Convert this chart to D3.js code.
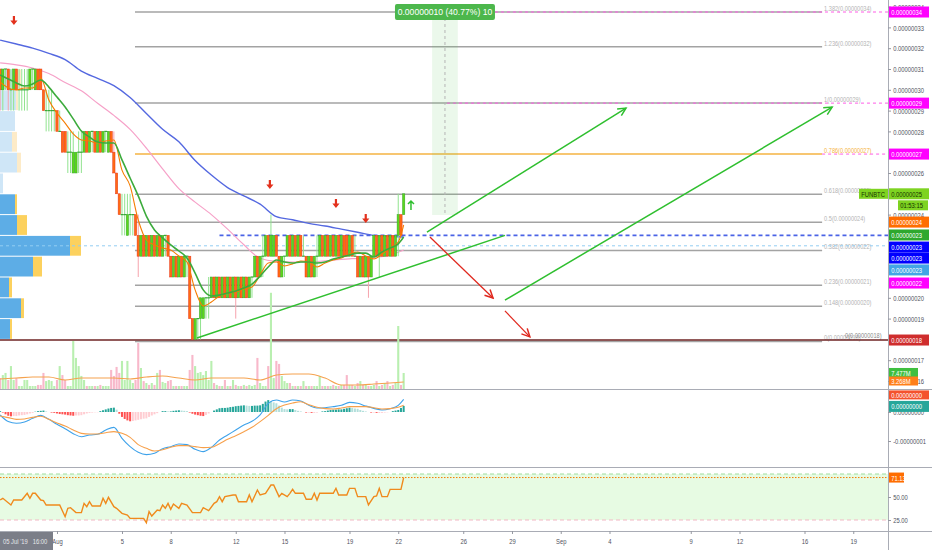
<!DOCTYPE html>
<html><head><meta charset="utf-8">
<script src="https://cdn.jsdelivr.net/npm/d3@7/dist/d3.min.js"></script>
<style>
html,body{margin:0;padding:0;background:#fff;overflow:hidden;}
svg{display:block;font-family:"Liberation Sans","DejaVu Sans",sans-serif;}
</style></head><body>
<svg id="chart" width="932" height="550"></svg>
<script>
// ================= DATA =================
const symbol = "FUNBTC";
const barStart = [2019, 6, 28, 12];   // 28 Jul 2019 12:00, 4-hour bars
const barHours = 4;
// [open, high, low, close] in satoshi (1e-8 BTC)
const candles = [
[31,31,29,30],[30,31,29,31],[31,31,30,31],[31,31,29,30],[30,31,29,30],[30,31,29,31],
[31,31,30,30],[30,31,29,30],[30,31,29,30],[30,31,29,30],[30,31,29,30],[30,31,30,31],
[31,31,30,31],[30,31,30,31],[31,31,30,30],[31,31,30,30],[30,30,29,29],[29,30,28,29],
[29,30,28,29],[29,30,28,29],[29,29,28,29],[29,29,28,28],[28,29,28,28],[28,28,27,27],
[28,28,27,27],[27,28,26,27],[27,28,26,27],[26,28,26,27],[26,27,26,27],[27,28,26,27],
[27,28,26,27],[27,28,27,28],[28,28,27,27],[27,28,27,28],[28,28,27,28],[28,28,27,27],
[27,28,27,28],[28,28,27,27],[27,28,27,28],[28,28,27,28],[27,28,27,28],[28,28,27,27],
[27,28,26,26],[26,26,25,25],[25,25,24,24],[24,25,23,24],[24,25,23,24],[23,25,23,24],
[24,25,23,24],[24,24,23,24],[24,24,23,23],[23,24,21,22],[22,23,22,23],[23,23,22,22],
[22,23,22,23],[23,23,22,22],[22,23,22,23],[23,23,22,22],[22,23,22,23],[23,23,22,22],
[22,23,22,23],[23,23,22,23],[23,23,22,22],[22,22,21,21],[21,22,21,22],[22,22,21,21],
[21,22,21,22],[22,22,21,21],[21,22,21,22],[22,22,21,22],[22,22,19,19],[19,19,18,18],
[18,19,18,19],[19,19,18,19],[19,20,18,20],[19,20,19,20],[20,20,19,20],[20,21,19,20],
[20,21,20,21],[21,21,20,20],[20,21,20,21],[21,21,20,20],[20,21,20,21],[21,21,20,20],
[20,21,20,21],[21,21,20,20],[20,21,20,21],[21,21,19,20],[20,21,20,21],[21,21,20,20],
[20,21,20,21],[21,21,20,20],[20,21,20,21],[21,21,20,21],[21,22,21,22],[22,22,21,21],
[21,22,21,22],[22,23,21,22],[22,23,22,23],[23,23,22,22],[22,24,22,23],[22,23,22,23],
[23,23,22,22],[22,22,21,21],[21,22,21,22],[22,22,21,22],[22,23,22,23],[23,23,22,22],
[22,23,22,23],[23,23,22,22],[22,23,22,23],[23,23,22,22],[22,23,22,22],[22,22,21,21],
[21,22,21,22],[22,22,21,21],[21,22,21,22],[22,23,21,22],[22,23,22,23],[23,23,22,22],
[22,23,22,23],[23,23,22,22],[22,23,22,23],[23,23,22,22],[22,23,22,23],[23,23,22,22],
[22,23,22,23],[23,23,22,22],[23,23,22,22],[22,23,22,23],[23,23,22,22],[22,23,22,22],
[22,22,21,21],[21,22,21,22],[22,22,21,21],[21,22,21,22],[22,22,20,21],[21,22,21,22],
[22,23,22,23],[23,23,22,22],[22,23,21,23],[23,23,22,22],[22,23,22,23],[23,23,22,22],
[22,23,22,23],[23,23,22,22],[22,23,22,23],[23,25,22,24],[24,24,23,23],[24,25,24,25]
];
// volume per bar, millions
const volumes = [
5.1,6.5,7.5,4.2,10.7,4.2,5.1,1.4,1.4,4.2, 4.2,1.4,1.4,1.4,1.9,1.9,7.5,3.7,4.2,3.7,
1.4,4.2,10.7,6.5,4.2,1.4,1.4,22.4,14.5,10.7, 6.1,4.2,1.4,1.4,1.4,1.4,1.4,1.9,1.4,1.4,
1.4,8.9,6.1,10.3,7.5,13.1,4.2,13.1,4.2,2.8, 4.2,21.5,9.8,3.7,2.8,1.9,2.8,1.9,7.5,8.9,
3.3,2.8,3.7,4.2,1.4,1.4,1.4,1.4,1.4,1.4, 8.9,15.9,10.7,7.5,7.9,6.5,8.4,4.2,13.1,2.8,
1.9,1.4,1.4,4.2,1.4,1.4,4.2,1.9,1.4,1.4, 1.9,1.4,1.9,1.4,1.9,14.5,2.8,1.4,1.4,10.7,
44.9,5.1,13.1,11.7,6.1,3.7,2.8,2.8,1.4,1.4, 1.4,1.4,3.7,1.4,1.4,1.4,1.4,1.4,6.1,1.4,
1.4,1.4,1.4,1.9,1.4,1.4,1.9,1.9,6.5,1.9, 1.9,1.4,2.8,3.7,1.9,1.9,1.4,1.4,1.9,3.7,
1.4,1.9,2.8,3.7,1.4,1.9,2.8,29.4,1.9,7.477
];
const volumeMA = [4.7,5.1,5.6,5.6,4.2,5.1,5.1,5.1,4.7,5.6,6.1,5.1,4.2,5.1,5.1,5.1,4.2,6.5,7.0,7.0,5.1,1.9,1.9,2.3,2.8,3.268]; // every 6 bars
const emaLong = [32.39,32.2,32.0,31.75,31.45,30.9,30.55,30.2,29.63,28.86,28.1,27.5,26.6,25.9,25.3,24.9,24.5,23.9,23.75,23.58,23.45,23.3,23.15,23.0,22.95,22.92]; // blue, every 6 bars
const emaMid = [31.29,31.2,31.05,30.78,30.35,29.95,29.35,28.77,28.1,27.2,26.2,25.25,24.6,24.0,23.3,22.55,21.9,21.75,21.72,21.72,21.78,21.85,21.9,21.95,22.05,22.3]; // pink, every 6 bars
const emaSlow = [30.71,30.52,30.33,30.18,30.28,30.47,30.13,29.65,29.17,28.6,28.02,27.73,27.49,27.44,27.44,26.63,25.76,24.9,23.93,23.26,22.88,22.54,22.25,21.91,21.19,20.38,20.09,20.13,20.23,20.33,20.47,20.66,21.05,21.48,21.82,21.72,21.67,21.72,21.72,21.67,21.72,21.87,21.96,22.06,22.15,22.15,21.96,22.2,22.39,22.59,22.92]; // green, every 3 bars
const emaFast = [30.38,30.09,29.99,30.09,30.09,30.57,29.51,28.88,28.4,27.88,27.59,27.54,27.44,27.54,27.59,26.14,25.38,23.74,22.78,22.54,22.39,22.3,22.01,21.72,20.38,19.61,19.8,20.09,20.23,20.28,20.42,20.52,21.1,21.67,21.72,21.53,21.63,21.77,21.72,21.48,21.67,21.82,21.91,22.1,22.2,22.01,21.87,22.1,22.39,22.68,23.5]; // orange, every 3 bars
const macdLine = [-0.103,-0.33,-0.39,-0.345,-0.218,-0.115,-0.253,-0.425,-0.575,-0.747,-0.851,-0.793,-0.770,-0.621,-0.529,-0.908,-1.195,-1.391,-1.471,-1.425,-1.264,-1.195,-1.103,-1.126,-1.287,-1.368,-1.218,-0.966,-0.793,-0.621,-0.448,-0.322,-0.103,0.299,0.414,0.345,0.414,0.379,0.23,0.138,0.149,0.184,0.23,0.333,0.299,0.207,0.126,0.069,0.115,0.23,0.437]; // satoshi, every 3 bars
const macdSignal = [-0.138,-0.195,-0.253,-0.241,-0.184,-0.149,-0.253,-0.379,-0.483,-0.621,-0.736,-0.759,-0.759,-0.713,-0.678,-0.736,-0.874,-1.126,-1.253,-1.345,-1.299,-1.218,-1.161,-1.161,-1.195,-1.230,-1.218,-1.092,-0.943,-0.816,-0.678,-0.529,-0.333,-0.115,0.115,0.241,0.310,0.356,0.253,0.161,0.115,0.103,0.138,0.184,0.184,0.184,0.149,0.103,0.115,0.161,0.23];
const macdHist = [3,-2,-8,-13,-15,-14,-14,-12,-11,-10,-8,-5,-3,1,3,4,5,2,0,-2,-3,-5,-7,-8,-9,-11,-12,-13,-12,-12,
-11,-8,-5,-3,-2,-1,-1,3,6,9,12,14,15,8,-6,-17,-24,-29,-32,-31,-29,-27,-25,-23,-22,-17,-12,-8,-4,0,
3,3,2,2,4,5,6,5,4,3,-2,-6,-9,-11,-13,-14,-10,-5,0,5,9,13,14,14,15,17,18,20,21,22,
23,22,21,21,22,22,23,28,36,41,38,33,30,22,15,10,9,10,10,7,4,2,0,-2,-2,-3,-3,-2,0,2,
3,5,7,8,8,9,9,11,13,15,14,12,11,7,4,2,0,-2,-2,-3,-3,-3,-2,-1,0,3,5,7,14,21]; // 0.01 satoshi per bar
const rsiPoints = [[0,46.7],[1,48.6],[4,41.3],[5,46.7],[8,46.7],[10,54.0],[11,48.6],[12,54.0],[13,54.0],[15,46.7],[16,46.0],[17,41.3],[22,41.3],[24,28.6],[25,37.7],[26,38.4],[28,33.0],[30,33.0],[31,43.1],[32,39.5],[33,44.9],[34,40.2],[37,40.2],[38,48.6],[39,43.1],[40,49.6],[42,39.5],[43,37.7],[45,32.2],[47,30.4],[48,26.8],[53,26.8],[54,22.1],[55,34.1],[56,29.3],[58,35.9],[59,35.1],[60,41.3],[61,37.7],[62,43.1],[63,36.6],[64,42.4],[66,37.7],[67,43.1],[69,41.3],[71,33.0],[74,33.0],[75,38.4],[77,35.1],[79,43.1],[80,44.9],[81,50.4],[82,44.9],[83,50.4],[86,52.2],[87,52.2],[88,44.9],[91,44.9],[92,52.2],[93,44.9],[95,57.6],[96,52.2],[98,54.0],[100,63.0],[101,63.0],[103,50.4],[104,54.0],[106,50.4],[107,54.0],[108,58.3],[109,54.0],[112,54.0],[113,47.5],[115,47.5],[116,54.0],[117,46.7],[118,54.0],[123,54.0],[124,59.4],[125,52.2],[128,52.2],[129,59.4],[131,59.4],[132,50.4],[135,50.4],[136,41.3],[138,50.4],[139,51.1],[140,59.4],[141,50.4],[143,50.4],[144,58.3],[148,58.3],[149,71.13]];
const rsiBands = [25, 75];
const rsiTicks = [25, 50];
const fibLevels = [0, 0.148, 0.236, 0.382, 0.5, 0.618, 0.786, 1, 1.236, 1.382];
const fibLow = 17.90, fibHigh = 29.36, fibFromBar = 49.8, fibToBar = 303.5;
const profileRows = [[18,10,2],[19,21,3],[20,9,3],[21,33,9],[22,70,11],[23,17,10],[24,15,2],[25,3,0],[26,17,4],[27,12,5],[28,15,0],[29,16,2],[30,18,3]]; // [price floor, up, down]
const valueAreaTop = 25;
const pocPrice = 22.5;
const trendLines = [
  {a:[72.7,18.07], b:[186.4,23.0], kind:"up", arrow:false},
  {a:[157.6,23.16], b:[231.1,29.12], kind:"up", arrow:true},
  {a:[186.4,19.89], b:[307.2,29.17], kind:"up", arrow:true},
  {a:[158.7,22.92], b:[182.0,19.99], kind:"down", arrow:true},
  {a:[186.4,19.37], b:[195.6,18.12], kind:"down", arrow:true}
];
const sellMarks = [[5.1,33.26],[99.6,25.38],[124,24.46],[135,23.74]];
const buyMarks = [[151.7,24.46]];
const position = {fromBar:159.5, toBar:169, low:23.98, high:33.74, label:"0.00000010 (40.77%) 10"};
const supportLevel = {price:23.0, fromBar:81};
const markLine = 17.97;
const targetLines = [{price:33.74, fromBar:165},{price:29.36, fromBar:165},{price:26.91, fromBar:303.5}];
const priceLabels = [
  {p:33.74, t:"0.00000034", kind:"fib"},
  {p:29.36, t:"0.00000029", kind:"fib"},
  {p:26.91, t:"0.00000027", kind:"fib"},
  {p:25.0,  t:"0.00000025", kind:"last"},
  {p:23.64, t:"0.00000024", kind:"emaFast"},
  {p:23.02, t:"0.00000023", kind:"emaSlow"},
  {p:22.44, t:"0.00000023", kind:"blue"},
  {p:21.91, t:"0.00000023", kind:"blue"},
  {p:21.34, t:"0.00000023", kind:"lightblue"},
  {p:20.71, t:"0.00000022", kind:"fib"},
  {p:17.97, t:"0.00000018", kind:"line"}
];
const countdown = "01:53:15";
const timeTicks = ["2019-08-01","2019-08-05","2019-08-08","2019-08-12","2019-08-15","2019-08-19","2019-08-22","2019-08-26","2019-08-29","2019-09-01","2019-09-04","2019-09-09","2019-09-12","2019-09-16","2019-09-19"];
const timeTickLabels = ["Aug","5","8","12","15","19","22","26","29","Sep","4","9","12","16","19"];
const crosshairLabel = "05 Jul '19\u00a0\u00a0\u00a016:00";

// ================= LAYOUT / STYLE =================
const AX = 888, W = 932;
const P = {mainBottom:389, macdTop:389, macdBottom:467, rsiTop:467, rsiBottom:531};
const C = {
  up:"#5cd61c", upEdge:"#34a52a", down:"#ff6b12", downEdge:"#e8361f",
  upWick:"#91e38f", downWick:"#f6a3ad", doji:"#3aa83a",
  volUp:"#b9efb0", volDown:"#f8b8ca", volMA:"#f5a24e",
  blue:"#5468e0", pink:"#f6a1c8", green:"#3cab3c", orange:"#f57c00",
  fib:"#a3a3a3", fibText:"#b3b3b3", fibHi:"#f5b342",
  axis:"#9598a1", axisText:"#50535e"
};
const labelColors = {fib:["#ff00ff","#fff"], last:["#7ed321","#173300"], emaFast:["#ff6d00","#fff"], emaSlow:["#2ea82e","#fff"], blue:["#0000ff","#fff"], lightblue:["#42a5e5","#fff"], line:["#cf2d2d","#fff"]};
const LABEL_H = 11;

const svg = d3.select("#chart");
const defs = svg.append("defs");
function clip(id,x,y,w,h){defs.append("clipPath").attr("id",id).append("rect").attr("x",x).attr("y",y).attr("width",w).attr("height",h);}
clip("cMain",0,0,AX,P.mainBottom);
clip("cMacd",0,P.macdTop+1,AX,P.macdBottom-P.macdTop-1);
clip("cRsi",0,P.rsiTop+1,AX,P.rsiBottom-P.rsiTop-1);

const t0 = new Date(barStart[0],barStart[1],barStart[2],barStart[3]);
const barDate = i => new Date(t0.getTime() + i*barHours*3600e3);
const x = d3.scaleTime().domain([new Date(2019,6,28,11,50), new Date(2019,8,21,3,19)]).range([0,AX]);
const xb = i => x(barDate(i));
const y = d3.scaleLinear().domain([18,33]).range([339.4,27.4]);
const yv = d3.scaleLinear().domain([0,22.4]).range([P.mainBottom,341]);
const ym = d3.scaleLinear().domain([-1,0]).range([441,412]);
const yr = d3.scaleLinear().domain([25,50]).range([520,497]);
const wp = d3.scaleLinear().domain([0,100]).range([0,100]);
const last = candles.length-1;
const sampled = (arr,step) => arr.map((v,k)=>[Math.min(k*step,last),v]);

function txt(g,x0,y0,s,o={}){
  return g.append("text").attr("transform",`translate(${x0},${y0}) scale(${o.sx??0.78},1)`)
    .attr("font-size",o.fs??7.5).attr("fill",o.fill??C.axisText)
    .attr("text-anchor",o.anchor??"start").attr("dominant-baseline","central").text(s);
}

// ================= MAIN PANE =================
const gm = svg.append("g").attr("clip-path","url(#cMain)");

// volume profile
profileRows.forEach(([p,u,d])=>{
  const light = p >= valueAreaTop;
  const y0 = y(p+1)+0.5, h = y(p)-y(p+1)-1;
  gm.append("rect").attr("x",0).attr("y",y0).attr("width",wp(u)).attr("height",h).attr("fill",light?"#cfe6f7":"#5dade6");
  gm.append("rect").attr("x",wp(u)).attr("y",y0).attr("width",wp(d)).attr("height",h).attr("fill",light?"#fdebc8":"#fcd15e");
});

// fib retracement
fibLevels.forEach(l=>{
  const p = fibLow + l*(fibHigh-fibLow);
  const hi = l===0.786;
  gm.append("line").attr("x1",xb(fibFromBar)).attr("x2",xb(fibToBar)).attr("y1",y(p)).attr("y2",y(p))
    .attr("stroke",hi?C.fibHi:C.fib).attr("stroke-width",1.5);
  txt(gm, xb(fibToBar)+2, y(p)-4, `${l}(${(p*1e-8).toFixed(8)})`, {fill:hi?C.fibHi:C.fibText, fs:7.2});
});
txt(gm, xb(fibToBar)+23, y(fibLow)-6.5, `0(${(fibLow*1e-8).toFixed(8)})`, {fill:"#8a8a8a", fs:7.2});

// horizontal lines
gm.append("line").attr("x1",0).attr("x2",AX).attr("y1",y(pocPrice)).attr("y2",y(pocPrice)).attr("stroke","#93cdf2").attr("stroke-dasharray","3,3");
gm.append("line").attr("x1",xb(supportLevel.fromBar)).attr("x2",AX).attr("y1",y(supportLevel.price)).attr("y2",y(supportLevel.price)).attr("stroke","#4a63e6").attr("stroke-width",1.6).attr("stroke-dasharray","4,3");
gm.append("line").attr("x1",0).attr("x2",AX).attr("y1",y(markLine)).attr("y2",y(markLine)).attr("stroke","#6e2323").attr("stroke-width",1.5);
targetLines.forEach(t=>gm.append("line").attr("x1",xb(t.fromBar)).attr("x2",AX).attr("y1",y(t.price)).attr("y2",y(t.price)).attr("stroke","#ff5ce6").attr("stroke-dasharray","3,3"));

// position box
gm.append("rect").attr("x",xb(position.fromBar)).attr("width",xb(position.toBar)-xb(position.fromBar))
  .attr("y",y(position.high)).attr("height",y(position.low)-y(position.high)).attr("fill","rgba(90,200,90,0.12)");
const pmid = (position.fromBar+position.toBar)/2;
gm.append("line").attr("x1",xb(pmid)).attr("x2",xb(pmid)).attr("y1",y(position.high)).attr("y2",y(position.low)).attr("stroke","#b5b5b5").attr("stroke-dasharray","3,3");

// volume
const vw = 2.1;
gm.selectAll(".vol").data(candles).join("rect")
  .attr("x",(d,i)=>xb(i)-vw/2).attr("width",vw)
  .attr("y",(d,i)=>yv(volumes[i])).attr("height",(d,i)=>P.mainBottom-yv(volumes[i]))
  .attr("fill",d=>d[3]>=d[0]?C.volUp:C.volDown);
gm.append("path").datum(sampled(volumeMA,6)).attr("fill","none").attr("stroke",C.volMA).attr("stroke-width",1.1)
  .attr("d",d3.line().x(d=>xb(d[0])).y(d=>yv(d[1])).curve(d3.curveMonotoneX));

// long EMAs
const lineP = (arr,step,col,w)=>gm.append("path").datum(sampled(arr,step)).attr("fill","none").attr("stroke",col).attr("stroke-width",w)
  .attr("d",d3.line().x(d=>xb(d[0])).y(d=>y(d[1])).curve(d3.curveMonotoneX));
lineP(emaLong,6,C.blue,1.4);
lineP(emaMid,6,C.pink,1.2);

// candles
const cw = 2.3;
const gc = gm.append("g");
candles.forEach((d,i)=>{
  const [o,h,l,c] = d, cx = xb(i), up = c>=o;
  gc.append("line").attr("x1",cx).attr("x2",cx).attr("y1",y(h)).attr("y2",y(l)).attr("stroke",up?C.upWick:C.downWick).attr("stroke-width",1);
});
candles.forEach((d,i)=>{
  const [o,h,l,c] = d, cx = xb(i);
  if (o===c) {
    gc.append("line").attr("x1",cx-1.4).attr("x2",cx+1.4).attr("y1",y(o)).attr("y2",y(o)).attr("stroke",C.doji).attr("stroke-width",1.2);
  } else {
    const up = c>o;
    gc.append("rect").attr("x",cx-cw/2).attr("width",cw).attr("y",y(Math.max(o,c))).attr("height",y(Math.min(o,c))-y(Math.max(o,c)))
      .attr("fill",up?C.up:C.down).attr("stroke",up?C.upEdge:C.downEdge).attr("stroke-width",0.5);
  }
});
lineP(emaFast,3,C.orange,1.1);
lineP(emaSlow,3,C.green,1.6);

// drawings
["up","down"].forEach(k=>{
  const col = k==="up"?"#2fbf2f":"#e0281e";
  defs.append("marker").attr("id","ah-"+k).attr("markerUnits","userSpaceOnUse").attr("viewBox","-10 -6 12 12")
    .attr("refX",0).attr("refY",0).attr("markerWidth",12).attr("markerHeight",12).attr("orient","auto")
    .append("path").attr("d","M-8,-4 L0,0 L-8,4").attr("fill","none").attr("stroke",col).attr("stroke-width",1.5);
});
trendLines.forEach(t=>{
  const col = t.kind==="up"?"#2fbf2f":"#e0281e";
  const ln = gm.append("line").attr("x1",xb(t.a[0])).attr("y1",y(t.a[1])).attr("x2",xb(t.b[0])).attr("y2",y(t.b[1]))
    .attr("stroke",col).attr("stroke-width",t.kind==="up"?1.5:1.3);
  if (t.arrow) ln.attr("marker-end",`url(#ah-${t.kind})`);
});
sellMarks.forEach(([b,p])=>gm.append("path").attr("transform",`translate(${xb(b)},${y(p)})`)
  .attr("d","M-1.1,-6 L1.1,-6 L1.1,-1.5 L3.6,-1.5 L0,3 L-3.6,-1.5 L-1.1,-1.5 Z").attr("fill","#e3311d"));
buyMarks.forEach(([b,p])=>gm.append("path").attr("transform",`translate(${xb(b)},${y(p)})`)
  .attr("d","M0,5 L0,-4 M-3,-1 L0,-4 L3,-1").attr("fill","none").attr("stroke","#2fbf2f").attr("stroke-width",1.5));

// position label
const pl = svg.append("g");
pl.append("rect").attr("x",xb(pmid)-50).attr("y",y(position.high)-8).attr("width",100).attr("height",16).attr("rx",2).attr("fill","#4cb74c");
pl.append("text").attr("x",xb(pmid)).attr("y",y(position.high)).attr("text-anchor","middle").attr("dominant-baseline","central")
  .attr("font-size",8.6).attr("fill","#fff").text(position.label);

// ================= MACD PANE =================
const gmac = svg.append("g").attr("clip-path","url(#cMacd)");
gmac.selectAll("rect").data(macdHist).join("rect")
  .attr("x",(d,i)=>xb(i)-1).attr("width",2)
  .attr("y",d=>Math.min(ym(0),ym(d/100))).attr("height",d=>Math.abs(ym(0)-ym(d/100)))
  .attr("fill",(d,i)=>{const pv = i>0?macdHist[i-1]:d; return d>=0?(d>=pv?"#26a69a":"#b2dfdb"):(d<pv?"#ff5252":"#ffcdd2");});
gmac.append("path").datum(sampled(macdLine,3)).attr("fill","none").attr("stroke","#3ea2ea").attr("stroke-width",1.1)
  .attr("d",d3.line().x(d=>xb(d[0])).y(d=>ym(d[1])).curve(d3.curveMonotoneX));
gmac.append("path").datum(sampled(macdSignal,3)).attr("fill","none").attr("stroke","#f7a04b").attr("stroke-width",1.1)
  .attr("d",d3.line().x(d=>xb(d[0])).y(d=>ym(d[1])).curve(d3.curveMonotoneX));

// ================= RSI PANE =================
const gr = svg.append("g").attr("clip-path","url(#cRsi)");
gr.append("rect").attr("x",0).attr("width",AX).attr("y",yr(rsiBands[1])).attr("height",yr(rsiBands[0])-yr(rsiBands[1])).attr("fill","#e7fbe3");
gr.append("line").attr("x1",0).attr("x2",AX).attr("y1",yr(rsiBands[1])).attr("y2",yr(rsiBands[1])).attr("stroke","#9fdc9f").attr("stroke-dasharray","4,3");
gr.append("line").attr("x1",0).attr("x2",AX).attr("y1",yr(rsiBands[0])).attr("y2",yr(rsiBands[0])).attr("stroke","#f2b8c4").attr("stroke-dasharray","4,3");
const rLast = rsiPoints[rsiPoints.length-1][1];
gr.append("line").attr("x1",0).attr("x2",AX).attr("y1",yr(rLast)).attr("y2",yr(rLast)).attr("stroke","#f57c00").attr("stroke-dasharray","1.5,1.5");
gr.append("path").datum(rsiPoints).attr("fill","none").attr("stroke","#f08a1c").attr("stroke-width",1.4)
  .attr("d",d3.line().x(d=>xb(d[0])).y(d=>yr(d[1])));

// ================= AXES =================
const sepCol = "#a9acb5";
[P.mainBottom, P.macdBottom, P.rsiBottom].forEach(v=>svg.append("line").attr("x1",0).attr("x2",W).attr("y1",v+0.5).attr("y2",v+0.5).attr("stroke",sepCol));
svg.append("line").attr("x1",AX+0.5).attr("x2",AX+0.5).attr("y1",0).attr("y2",550).attr("stroke",sepCol);

// tick labels that lie (almost) entirely behind a full-width price label are not drawn
const labelYs = priceLabels.map(l=>y(l.p));
function visiblePart(ty, ys){
  let free = 0;
  for (let s = ty-3; s < ty+3; s += 0.25) { if (!ys.some(c=>Math.abs(s-c) < LABEL_H/2)) free += 0.25; }
  return free;
}
function styleAxis(g){
  g.select(".domain").remove();
  g.selectAll(".tick line").attr("stroke",C.axis);
  g.selectAll(".tick text").attr("fill",C.axisText).attr("font-size",7.5).attr("font-family","Liberation Sans, sans-serif")
   .attr("dy",null).attr("dominant-baseline","central");
}
function rightAxis(scale,vals,fmt,clipId){
  const g = svg.append("g").attr("transform",`translate(${AX},0)`).attr("clip-path",`url(#${clipId})`);
  g.call(d3.axisRight(scale).tickValues(vals).tickFormat(fmt).tickSize(3));
  styleAxis(g);
  g.selectAll(".tick text").attr("x",6.6).attr("transform","scale(0.78,1)");
}
clip("caMain",0,0,60,P.mainBottom);
clip("caMacd",0,P.macdTop+1,60,P.macdBottom-P.macdTop-1);
clip("caRsi",0,P.rsiTop+1,60,P.rsiBottom-P.rsiTop-1);
rightAxis(y, d3.range(16,35).filter(v=>visiblePart(y(v),labelYs) >= 2.5), v=>(v*1e-8).toFixed(8), "caMain");
rightAxis(ym,[0,-1],v=>(v*1e-8).toFixed(8),"caMacd");
rightAxis(yr,rsiTicks,v=>v.toFixed(2),"caRsi");

const gt = svg.append("g").attr("transform",`translate(0,${P.rsiBottom})`);
gt.call(d3.axisBottom(x).tickValues(timeTicks.map(s=>new Date(s+"T00:00"))).tickFormat((d,i)=>timeTickLabels[i]).tickSize(3));
styleAxis(gt);
gt.selectAll(".tick text").attr("y",0).attr("transform","translate(0,10.5) scale(0.78,1)");

// ================= AXIS LABELS =================
const gl = svg.append("g");
function boxLabel(x0,w,cy,h,bg,fg,s){
  gl.append("rect").attr("x",x0).attr("y",cy-h/2).attr("width",w).attr("height",h).attr("fill",bg);
  txt(gl,x0+2.2,cy+0.3,s,{fill:fg});
}
priceLabels.forEach(l=>{
  const [bg,fg] = labelColors[l.kind];
  boxLabel(AX+1,40,y(l.p),LABEL_H,bg,fg,l.t);
  if (l.kind==="last") {
    boxLabel(AX-29,29,y(l.p),10,bg,fg,symbol);
    boxLabel(AX+10,30,y(l.p)+11.5,10,bg,fg,countdown);
  }
});
boxLabel(AX+1,29,yv(volumes[last]),10,"#3fbf3f","#fff",volumes[last].toFixed(3)+"M");
boxLabel(AX+1,29,yv(volumeMA[volumeMA.length-1])-1,9,"#ff7f1a","#fff",volumeMA[volumeMA.length-1].toFixed(3)+"M");
// MACD value labels (stacked to avoid overlap)
const hLast = macdHist[last]/100, mLast = macdLine[macdLine.length-1];
const tealY = ym(hLast)+0.5, redY = Math.min(ym(mLast), tealY-11.5);
boxLabel(AX+1,40,redY,9,"#f4522d","#fff",(mLast*1e-8).toFixed(8));
boxLabel(AX+1,40,tealY,11,"#26a69a","#fff",(hLast*1e-8).toFixed(8));
boxLabel(AX+1,15,yr(rLast),10,"#ff6d00","#fff",rLast.toFixed(2));
// crosshair time label
gl.append("rect").attr("x",0).attr("y",P.rsiBottom+1).attr("width",53).attr("height",19).attr("fill","#7b7e88");
txt(gl,3,P.rsiBottom+10.5,crosshairLabel,{fill:"#e6e7ea"});
</script>
</body></html>
